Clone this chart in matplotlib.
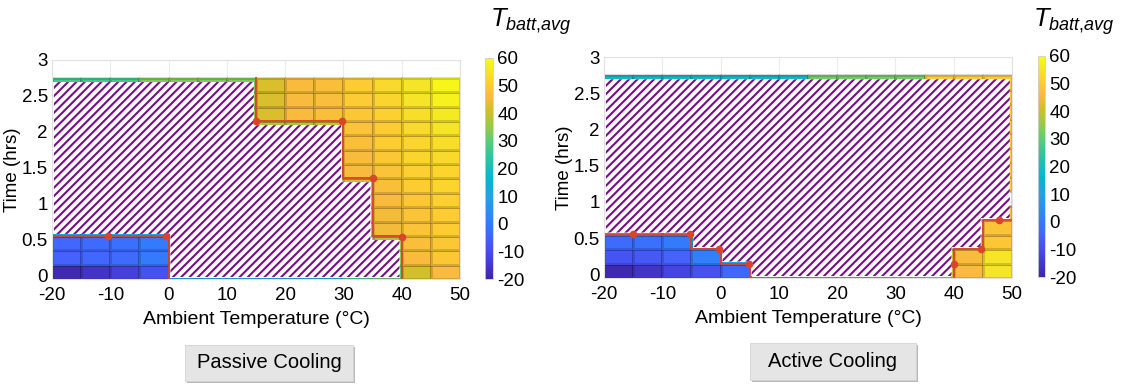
import numpy as np
import matplotlib
matplotlib.use('Agg')
import matplotlib.pyplot as plt
from matplotlib.colors import LinearSegmentedColormap
from matplotlib.patches import Rectangle

plt.rcParams['font.family'] = ['Liberation Sans', 'DejaVu Sans']
plt.rcParams['axes.unicode_minus'] = False
plt.rcParams['mathtext.fontset'] = 'custom'
plt.rcParams['mathtext.it'] = 'Liberation Sans:italic'
plt.rcParams['mathtext.rm'] = 'Liberation Sans'
plt.rcParams['hatch.color'] = '#780c8c'
plt.rcParams['hatch.linewidth'] = 1.5

# parula, sampled from the 64-entry table
parula_pts = [
    (0.2422, 0.1504, 0.6603), (0.2706, 0.2147, 0.8364), (0.2813, 0.3006, 0.9414),
    (0.2699, 0.3892, 0.9906), (0.1963, 0.4847, 0.9892), (0.1687, 0.5703, 0.9359),
    (0.1248, 0.6459, 0.8883), (0.0297, 0.7082, 0.8163), (0.0964, 0.7500, 0.7120),
    (0.2161, 0.7843, 0.5923), (0.3909, 0.8029, 0.4354), (0.6174, 0.7876, 0.2612),
    (0.8203, 0.7498, 0.1535), (0.9728, 0.7298, 0.2394), (0.9892, 0.8136, 0.1885),
    (0.9597, 0.9135, 0.1423), (0.9769, 0.9839, 0.0805)]
parula_pos = [0, 4, 8, 12, 16, 20, 24, 28, 32, 36, 40, 44, 48, 52, 56, 60, 63]
parula = LinearSegmentedColormap.from_list(
    'parula', [(p / 63, c) for p, c in zip(parula_pos, parula_pts)])

# grid: ambient temperature (deg C) x time (hrs)
amb_edges = np.arange(-20, 51, 5)
time_edges = -0.05 + 0.2 * np.arange(15)
N = np.nan

# average battery temperature, rows listed from top (2.65 h) to bottom (0.05 h)
passive_temp = np.array([
    [27, 27, 27, 33, 33, 33, 33, 42, 46, 47, 50, 53, 55, 59],
    [20, N, N, N, N, N, 35, 42, 46, 47, 50, 52, 55, 58],
    [19, N, N, N, N, N, 35, 42, 46, 47, 49, 51, 54, 56],
    [18, N, N, N, N, N, N, 38, 38, 40, 48, 50, 53, 55],
    [17, N, N, N, N, N, N, N, N, 40, 47, 50, 52, 54],
    [16, N, N, N, N, N, N, N, N, 40, 46, 49, 52, 53],
    [15, N, N, N, N, N, N, N, N, 40, 46, 48, 51, 52],
    [14, N, N, N, N, N, N, N, N, N, 40, 47, 50, 52],
    [14, N, N, N, N, N, N, N, N, N, 38, 46, 49, 51],
    [13, N, N, N, N, N, N, N, N, N, 38, 45, 48, 50],
    [12, 12, 12, 12, N, N, N, N, N, N, 38, 45, 48, 50],
    [-4, -3, -2, 0, 12, N, N, N, N, N, N, 36, 47, 49],
    [-5, -4, -3, 0, 12, N, N, N, N, N, N, 35, 46, 49],
    [-19, -16, -13, -9, 12, 12, 12, 12, 12, 15, 27, 30, 41, 46],
])[::-1]

active_temp = np.array([
    [18, 18, 18, 18, 18, 18, 18, 32, 32, 32, 32, 50, 50, 50],
    [16, N, N, N, N, N, N, N, N, N, N, N, N, 50],
    [16, N, N, N, N, N, N, N, N, N, N, N, N, 50],
    [16, N, N, N, N, N, N, N, N, N, N, N, N, 50],
    [16, N, N, N, N, N, N, N, N, N, N, N, N, 50],
    [16, N, N, N, N, N, N, N, N, N, N, N, N, 50],
    [16, N, N, N, N, N, N, N, N, N, N, N, N, 50],
    [16, N, N, N, N, N, N, N, N, N, N, N, N, 50],
    [16, N, N, N, N, N, N, N, N, N, N, N, N, N],
    [16, N, N, N, N, N, N, N, N, N, N, N, N, 48],
    [12, 12, 12, 12, N, N, N, N, N, N, N, N, N, 48],
    [-3, -2, 0, 12, N, N, N, N, N, N, N, N, 44, 49],
    [-8, -7, -5, 1, 10, N, N, N, N, N, N, 40, 46, 55],
    [-19, -16, -12, -9, -4, 10, 14, 22, 24, 26, 30, 40, 46, 55],
])[::-1]

# rows per column that are hatched (no result): [lo, hi)
passive_hatch_lo = [3, 3, 3, 3, 0, 0, 0, 0, 0, 0, 0, 0, 0, 0]
passive_hatch_hi = [14, 14, 14, 14, 14, 14, 14, 11, 11, 11, 7, 3, 0, 0]
active_hatch_lo = [3, 3, 3, 2, 1, 0, 0, 0, 0, 0, 0, 0, 2, 4]
active_hatch_hi = [14] * 14

# limit markers
passive_dots_x = [-10.4, -0.4, 15, 29.7, 35, 40.1]
passive_dots_y = [0.55, 0.55, 2.15, 2.15, 1.36, 0.54]
active_dots_x = [-15.1, -5.2, -0.2, 4.8, 40, 44.7, 47.8]
active_dots_y = [0.56, 0.56, 0.35, 0.14, 0.14, 0.35, 0.75]

W, H = 1121, 385
fig = plt.figure(figsize=(W / 100, H / 100), dpi=100)


def fx(px):
    return px / W


def fy(py):
    return 1 - py / H


def hidden(X, Y, lo, hi):
    col = np.floor((X - amb_edges[0]) / 5).astype(int)
    row = np.floor((Y - time_edges[0]) / 0.2).astype(int)
    ok = (col >= 0) & (col < 14) & (row >= 0) & (row < 14)
    colc = np.clip(col, 0, 13)
    lo_a, hi_a = np.array(lo)[colc], np.array(hi)[colc]
    return ok & (row >= lo_a) & (row < hi_a)


def step_edge(cols, levels, start=None, end=None):
    xs, ys = [], []
    if start is not None:
        xs.append(amb_edges[cols[0]])
        ys.append(start)
    for c, lv in zip(cols, levels):
        xs += [amb_edges[c], amb_edges[c + 1]]
        ys += [lv, lv]
    if end is not None:
        xs.append(amb_edges[cols[-1] + 1])
        ys.append(end)
    return xs, ys


def panel(rect, cbar_rect, label_x, temp, lo, hi, edges, dots_x, dots_y):
    ax = fig.add_axes([fx(rect[0]), fy(rect[3]), fx(rect[2] - rect[0]),
                       (rect[3] - rect[1]) / H])
    mesh = ax.pcolormesh(amb_edges, time_edges, temp, cmap=parula, vmin=-20, vmax=60,
                         edgecolors=(0, 0, 0, 0.15), linewidth=0.8)

    # hatched "no result" region, pulled in a little from the cell borders
    xf = np.linspace(-20, 50, 1401)
    yf = np.linspace(-0.05, 2.75, 561)
    X, Y = np.meshgrid(xf, yf)
    mx, my, mtop = 0.35, 0.028, 0.055
    mask = (hidden(X - mx, Y - my, lo, hi) & hidden(X + mx, Y - my, lo, hi) &
            hidden(X - mx, Y + mtop, lo, hi) & hidden(X + mx, Y + mtop, lo, hi))
    ax.contourf(xf, yf, mask.astype(float), levels=[0.5, 1.5], colors='white',
                hatches=['////'])

    for xs, ys in edges:
        ax.plot(xs, ys, color='#d9442a', lw=1.3)
    ax.plot(dots_x, dots_y, 'o', color='#d9442a', ms=5.5, mec='none')

    ax.set_xlim(-20, 50)
    ax.set_ylim(-0.05, 3)
    ax.set_xticks(np.arange(-20, 51, 10))
    ax.set_yticks(np.arange(0, 3.01, 0.5))
    ax.set_yticklabels(['0', '0.5', '1', '1.5', '2', '2.5', '3'])
    ax.tick_params(length=0, labelsize=13.5, pad=3)
    ax.tick_params(axis='x', pad=6)
    ax.grid(True, color='#ececec', lw=0.8)
    ax.set_axisbelow(True)
    for s in ax.spines.values():
        s.set_color('#e2e2e2')
        s.set_linewidth(0.8)
    ax.set_xlabel('Ambient Temperature (°C)', fontsize=14, va='center')
    ax.xaxis.set_label_coords(0.5, -0.185)
    ax.set_ylabel('Time (hrs)', fontsize=13.5, va='center')
    ax.yaxis.set_label_coords(-0.097, 0.5)

    cax = fig.add_axes([fx(cbar_rect[0]), fy(cbar_rect[3]),
                        fx(cbar_rect[2] - cbar_rect[0]), (cbar_rect[3] - cbar_rect[1]) / H])
    cb = fig.colorbar(mesh, cax=cax, ticks=np.arange(-20, 61, 10))
    cb.outline.set_edgecolor('#d0d0d0')
    cb.outline.set_linewidth(0.6)
    cax.tick_params(length=0, labelsize=13.5, pad=3)
    fig.text(fx(label_x), fy(27), r'$T_{batt{,}avg}$', fontsize=18.5,
             va='baseline', ha='left')
    return ax


def button(x0, y0, x1, y1, label):
    fig.patches.append(Rectangle((fx(x0 + 2), fy(y1 + 2)), fx(x1 - x0), (y1 - y0) / H,
                                 transform=fig.transFigure, facecolor='#9a9a9a',
                                 edgecolor='none', alpha=0.7))
    fig.patches.append(Rectangle((fx(x0), fy(y1)), fx(x1 - x0), (y1 - y0) / H,
                                 transform=fig.transFigure, facecolor='#e5e5e5',
                                 edgecolor='#d2d2d2', lw=0.6))
    fig.text(fx((x0 + x1) / 2), fy((y0 + y1) / 2), label, ha='center', va='center',
             fontsize=14.5)


te = time_edges
panel((52, 60, 460, 279), (485, 58, 493, 279), 490, passive_temp,
      passive_hatch_lo, passive_hatch_hi,
      [step_edge([0, 1, 2, 3], [te[3]] * 4, end=te[0]),
       step_edge([7, 8, 9, 10, 11], [te[11], te[11], te[11], te[7], te[3]],
                 start=te[14], end=te[0])],
      passive_dots_x, passive_dots_y)

panel((604, 57, 1012, 278), (1038, 56, 1045, 277), 1033, active_temp,
      active_hatch_lo, active_hatch_hi,
      [step_edge([0, 1, 2, 3, 4], [te[3], te[3], te[3], te[2], te[1]], end=te[0]),
       step_edge([12, 13], [te[2], te[4]], start=te[0])],
      active_dots_x, active_dots_y)

button(185, 345, 353, 381, 'Passive Cooling')
button(750, 343, 916, 380, 'Active Cooling')

fig.savefig('out.png', dpi=100)
